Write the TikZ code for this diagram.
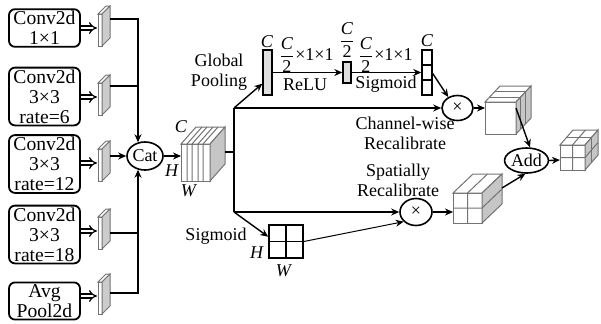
\documentclass[tikz,border=0pt]{standalone}
\usepackage{fontspec}
\setmainfont{Liberation Serif}
\usetikzlibrary{shapes.geometric, arrows.meta}
\tikzstyle{convBox} = [shape=rectangle, draw=black, line width=0.9pt, rounded corners=3pt,
	align=center, minimum width=35.5pt, inner sep=1pt, font=\rmfamily\fontsize{9.8}{10}\selectfont]
\tikzstyle{opNode} = [shape=ellipse, draw=black, line width=0.8pt, inner sep=0pt,
	font=\rmfamily\fontsize{9}{10}\selectfont]
\tikzstyle{vecBar} = [shape=rectangle, draw=black, line width=0.7pt, inner sep=0pt]
\tikzstyle{lbl} = [align=center, inner sep=0pt, font=\rmfamily\fontsize{9}{10}\selectfont]
\tikzstyle{link} = [line width=0.7pt, draw=black]
\tikzstyle{normalArrow} = [link, -{Stealth[length=4pt,width=3.5pt]}]
\tikzstyle{thinArrow} = [line width=0.5pt, -{Stealth[length=4pt,width=3.5pt]}]
\tikzstyle{dblArrow} = [double, double distance=1.4pt, line width=0.6pt, -{Implies}]
\tikzstyle{cubeEdge} = [draw=black!55, line width=0.5pt]

\begin{document}
\begin{tikzpicture}[x=0.5pt, y=-0.5pt]
  \useasboundingbox (0,0) rectangle (601,323);

  % parallel branches
  \node (branch1) [convBox] at (44.5,28) {Conv2d\\1×1};
  \node (branch2) [convBox] at (44.5,96.5) {Conv2d\\3×3\\rate=6};
  \node (branch3) [convBox] at (44.5,164) {Conv2d\\3×3\\rate=12};
  \node (branch4) [convBox] at (44.5,234.5) {Conv2d\\3×3\\rate=18};
  \node (branch5) [convBox] at (44.5,301) {Avg\\Pool2d};

  \foreach \n/\c/\l in {1/28/19, 2/97/86, 3/163/156, 4/231/233, 5/296/293} {
    \filldraw[cubeEdge, fill=white] (98,\c-14) rectangle (102,\c+18);
    \filldraw[cubeEdge, fill=white] (98,\c-14) -- (106,\c-22) -- (110,\c-22) -- (102,\c-14) -- cycle;
    \filldraw[cubeEdge, fill=gray!40] (102,\c-14) -- (110,\c-22) -- (110,\c+10) -- (102,\c+18) -- cycle;
    \coordinate (fmL\n) at (97,\c);
    \coordinate (fmR\n) at (110,\l);
    \draw [dblArrow] (branch\n.east |- fmL\n) -- (fmL\n);
  }

  \node (cat) [opNode, minimum width=18pt, minimum height=14pt] at (145,156) {Cat};
  \draw [normalArrow] (fmR1) -| (cat.117);
  \draw [link] (fmR2) -- (fmR2 -| cat.117);
  \draw [normalArrow] (fmR3) -- (cat.west);
  \draw [link] (fmR4) -- (fmR4 -| cat.243);
  \draw [normalArrow] (fmR5) -| (cat.243);

  % concatenated feature
  \filldraw[cubeEdge, fill=white] (181,144) rectangle (210,181);
  \filldraw[cubeEdge, fill=white] (181,144) -- (196,127) -- (225,127) -- (210,144) -- cycle;
  \filldraw[cubeEdge, fill=gray!45] (210,144) -- (225,127) -- (225,164) -- (210,181) -- cycle;
  \foreach \x in {187,192,198,203}
    \draw[cubeEdge] (\x,181) -- (\x,144) -- ++(15,-17);
  \node[lbl] at (181,127) {\textit{C}};
  \node[lbl] at (172,171) {\textit{H}};
  \node[lbl] at (189,191) {\textit{W}};
  \coordinate (featL) at (181,156);
  \coordinate (featR) at (225,152);
  \coordinate (split) at (234,152);
  \coordinate (splitT) at (234,108);
  \coordinate (splitB) at (234,212);
  \draw [normalArrow] (cat.east) -- (featL);
  \draw [link] (featR) -- (split);
  \draw [link] (splitT) -- (splitB);

  % channel-wise branch
  \node[lbl] at (219,72) {Global\\Pooling};
  \node (gp) [vecBar, fill=gray!25, minimum width=4.5pt, minimum height=22.5pt] at (267.5,72.5) {};
  \node (relu) [vecBar, fill=gray!25, minimum width=4pt, minimum height=10.5pt] at (347,72.5) {};
  \node (sig) [vecBar, fill=white, minimum width=5pt, minimum height=22.5pt] at (427,72.5) {};
  \draw [vecBar] (422,65) -- (432,65) (422,80) -- (432,80);
  \node[lbl] at (267,42) {\textit{C}};
  \node[lbl] at (306,55) {$\displaystyle\frac{\mbox{\textit{C}}}{\mbox{2}}$×1×1};
  \node[lbl] at (347,40) {$\displaystyle\frac{\mbox{\textit{C}}}{\mbox{2}}$};
  \node[lbl] at (385,55) {$\displaystyle\frac{\mbox{\textit{C}}}{\mbox{2}}$×1×1};
  \node[lbl] at (427,41) {\textit{C}};
  \node[lbl] at (305,85) {ReLU};
  \node[lbl] at (386,84) {Sigmoid};
  \draw [normalArrow] (splitT) -- (gp.245);
  \draw [normalArrow] (gp.east) -- (relu.west);
  \draw [normalArrow] (relu.east) -- (sig.west);

  \node (mulA) [opNode, minimum width=15.5pt, minimum height=12.5pt] at (457.5,108) {×};
  \draw [normalArrow] (sig.-10) -- (mulA.130);
  \draw [normalArrow] (splitT) -- (mulA.west);
  \node[lbl] at (405,133) {Channel-wise\\Recalibrate};

  \filldraw[cubeEdge, fill=white] (485,102) rectangle (516,134);
  \filldraw[cubeEdge, fill=white] (485,102) -- (500,86) -- (531,86) -- (516,102) -- cycle;
  \filldraw[cubeEdge, fill=gray!45] (516,102) -- (531,86) -- (531,118) -- (516,134) -- cycle;
  \foreach \t in {0.3,0.65}
    \draw[cubeEdge] (485+15*\t,102-16*\t) -- (516+15*\t,102-16*\t) -- (516+15*\t,134-16*\t);
  \coordinate (cLeft) at (485,108);
  \coordinate (cOut) at (516,108);
  \draw [normalArrow] (mulA.east) -- (cLeft);

  % spatial branch
  \node[lbl] at (216,236) {Sigmoid};
  \node (smap) [draw, line width=0.8pt, minimum width=17pt, minimum height=16.5pt, inner sep=0pt] at (286,241.5) {};
  \draw [line width=0.8pt] (smap.north) -- (smap.south) (smap.west) -- (smap.east);
  \node[lbl] at (257,253) {\textit{H}};
  \node[lbl] at (284,271) {\textit{W}};
  \draw [normalArrow] (splitB) -- (smap.165);

  \node (mulB) [opNode, minimum width=16pt, minimum height=13.5pt] at (416,212) {×};
  \draw [normalArrow] (splitB) -- (mulB.west);
  \draw [thinArrow] (smap.east) -- (mulB.218);
  \node[lbl] at (398,180) {Spatially\\Recalibrate};

  \filldraw[cubeEdge, fill=white] (453,193) rectangle (482,223);
  \filldraw[cubeEdge, fill=white] (453,193) -- (473,174) -- (502,174) -- (482,193) -- cycle;
  \filldraw[cubeEdge, fill=gray!45] (482,193) -- (502,174) -- (502,204) -- (482,223) -- cycle;
  \draw[cubeEdge] (467.5,223) -- (467.5,193) -- ++(20,-19);
  \draw[cubeEdge] (453,208) -- (482,208) -- ++(20,-19);
  \coordinate (sLeft) at (453,212);
  \coordinate (sOut) at (502,188);
  \draw [normalArrow] (mulB.east) -- (sLeft);

  % fusion
  \node (add) [opNode, minimum width=18.5pt, minimum height=12.5pt] at (526.5,160.5) {Add};
  \draw [normalArrow] (cOut) -- (add.75);
  \draw [normalArrow] (sOut) -- (add.265);

  \filldraw[cubeEdge, fill=white] (560,145) rectangle (585,170);
  \filldraw[cubeEdge, fill=white] (560,145) -- (573,130) -- (598,130) -- (585,145) -- cycle;
  \filldraw[cubeEdge, fill=gray!45] (585,145) -- (598,130) -- (598,155) -- (585,170) -- cycle;
  \draw[cubeEdge] (572.5,170) -- (572.5,145) -- ++(13,-15);
  \draw[cubeEdge] (560,157.5) -- (585,157.5) -- ++(13,-15);
  \draw[cubeEdge] (566.5,137.5) -- (591.5,137.5) -- (591.5,162.5);
  \coordinate (oLeft) at (560,160);
  \draw [normalArrow] (add.east) -- (oLeft);

\end{tikzpicture}
\end{document}
